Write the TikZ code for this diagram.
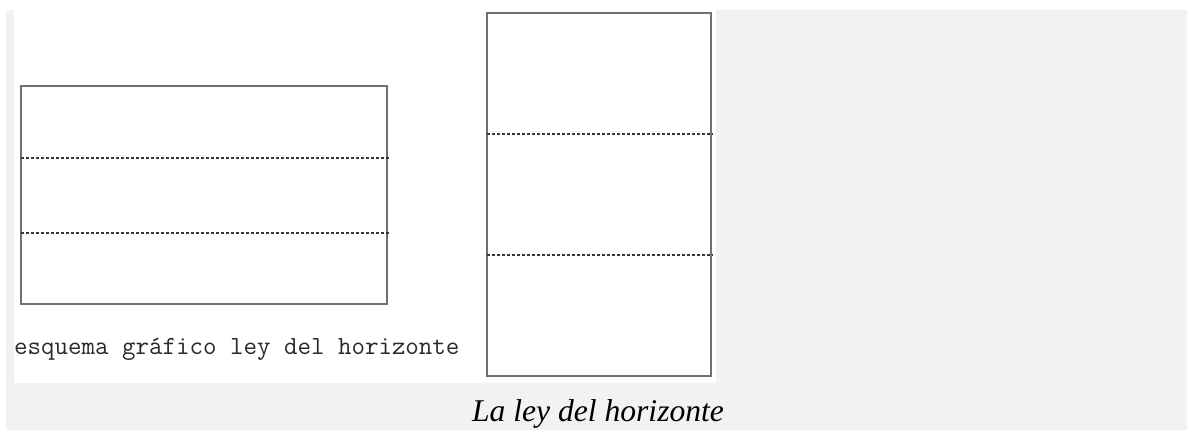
\documentclass[tikz,border=0pt]{standalone}
\usepackage{fontspec}
\setmainfont{Liberation Serif}
\usepackage{tikz}
\usetikzlibrary{positioning}
\definecolor{pagegray}{HTML}{F2F2F2}
\definecolor{framegray}{HTML}{707070}
\definecolor{dotgray}{HTML}{383838}
\definecolor{textgray}{HTML}{2A2A2A}

\begin{document}
\begin{tikzpicture}[x=1pt, y=-1pt,
    frame/.style={draw=framegray, line width=1.8pt},
    horizon/.style={draw=dotgray, line width=2pt, dash pattern=on 2.5pt off 2.5pt},
    label/.style={inner sep=0pt, text=textgray, font=\ttfamily\fontsize{26.2}{30}\selectfont},
    caption/.style={inner sep=0pt, font=\itshape\fontsize{31.6}{36}\selectfont}]
  \useasboundingbox (0,0) rectangle (1187,430);
  \fill[pagegray] (6,10) rectangle (1187,430);
  \fill[white] (14,10) rectangle (716,383);

  % apaisado
  \draw[frame] (21,86) rectangle (387,304);
  \draw[horizon] (21,158) -- (389,158);
  \draw[horizon] (21,233) -- (389,233);
  \node[label, anchor=base west] (esquema) at (14,355) {esquema gráfico ley del horizonte};

  % vertical
  \draw[frame] (487,13) rectangle (711,376);
  \draw[horizon] (487,134) -- (713,134);
  \draw[horizon] (487,255) -- (713,255);

  \node[caption, anchor=base] (titulo) at (598,421) {La ley del horizonte};
\end{tikzpicture}
\end{document}
